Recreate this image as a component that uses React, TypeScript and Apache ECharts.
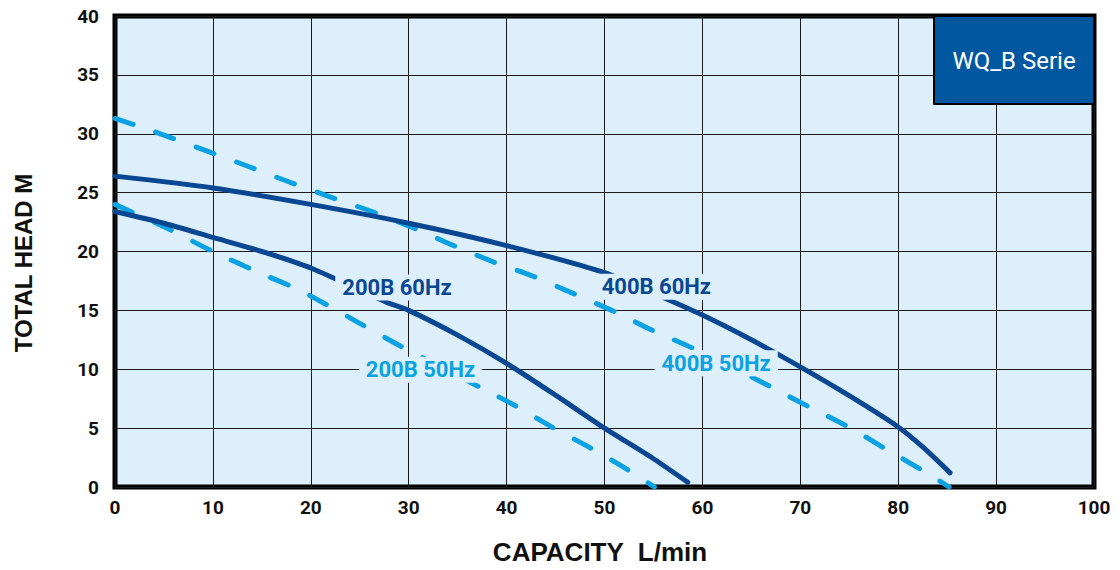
import React, { useEffect, useRef } from "react";
import * as echarts from "echarts";

// Capacity (L/min) and total head (m)
const capacity400_60 = [0, 10, 20, 30, 40, 50, 55.7, 60, 65, 70, 75, 80, 82.5, 85.3];
const head400_60 = [26.4, 25.4, 24.0, 22.4, 20.5, 18.2, 16.2, 14.6, 12.5, 10.2, 7.75, 5.1, 3.4, 1.2];

const capacity400_50 = [0, 3.1, 9.5, 13.7, 17.8, 22.1, 26.2, 30.5, 34.6, 38.7, 42.7, 46.9, 51, 54.9, 59, 63, 67, 70.9, 74.9, 78.6, 82.5, 85.2];
const head400_50 = [31.3, 30.45, 28.5, 27.2, 25.9, 24.6, 23.4, 22.0, 20.5, 19.1, 17.9, 16.4, 14.9, 13.3, 11.8, 10.2, 8.5, 6.8, 5.1, 3.3, 1.4, 0];

const capacity200_60 = [0, 5, 10, 15, 20, 27.7, 30, 35, 40, 45, 50, 55, 58.5];
const head200_60 = [23.4, 22.4, 21.2, 20.0, 18.6, 15.7, 15.0, 12.9, 10.5, 7.8, 5.0, 2.4, 0.4];

const capacity200_50 = [0, 5, 10, 15, 18.9, 25, 29.1, 38.6, 40.9, 44.6, 48.6, 52.3, 55.1];
const head200_50 = [24.0, 22.1, 20.0, 18.1, 16.7, 13.9, 12.0, 7.9, 6.9, 5.1, 3.3, 1.5, 0];

// Curve labels (text and anchor in data coordinates)
const labelNames = ["200B 60Hz", "400B 60Hz", "200B 50Hz", "400B 50Hz"];
const labelCapacity = [28.8, 55.3, 31.2, 61.4];
const labelHead = [16.95, 17.0, 9.96, 10.5];
const labelIs60Hz = [true, true, false, false];

const xTicks = { min: 0, max: 100, interval: 10 };
const yTicks = { min: 0, max: 40, interval: 5 };

const seriesTitle = "WQ_B Serie";
const xTitle = "CAPACITY  L/min";
const yTitle = "TOTAL HEAD M";

const DARK = "#0a4793";
const LIGHT = "#0aa2e2";
const BG = "#ddeffa";

const zip = (xs: number[], ys: number[]) => xs.map((x, i) => [x, ys[i]]);

export default function App() {
  const ref = useRef<HTMLDivElement>(null);
  useEffect(() => {
    if (!ref.current) return;
    const chart = echarts.init(ref.current, null, { renderer: "svg" });
    const solid = (name: string, data: number[][]) => ({
      name,
      type: "line",
      data,
      smooth: 0.25,
      showSymbol: false,
      symbol: "none",
      z: 3,
      lineStyle: { color: DARK, width: 5, cap: "round", join: "round" },
      silent: true,
    });
    const dashed = (name: string, data: number[][]) => ({
      name,
      type: "line",
      data,
      smooth: 0.25,
      showSymbol: false,
      symbol: "none",
      z: 2,
      lineStyle: { color: LIGHT, width: 5, type: [19, 24], cap: "round" },
      silent: true,
    });
    chart.setOption({
      animation: false,
      backgroundColor: "#ffffff",
      grid: {
        left: 115,
        top: 16,
        right: 26,
        bottom: 83,
        show: true,
        backgroundColor: BG,
        borderColor: "#000",
        borderWidth: 5,
        z: 0,
      },
      xAxis: {
        type: "value",
        min: xTicks.min,
        max: xTicks.max,
        interval: xTicks.interval,
        axisLine: { show: false },
        axisTick: { show: false },
        axisLabel: {
          margin: 11,
          color: "#111",
          fontFamily: "Roboto",
          fontWeight: "bold",
          fontSize: 19,
        },
        splitLine: { show: true, lineStyle: { color: "#1a1a1a", width: 1 } },
      },
      yAxis: {
        type: "value",
        min: yTicks.min,
        max: yTicks.max,
        interval: yTicks.interval,
        axisLine: { show: false },
        axisTick: { show: false },
        axisLabel: {
          margin: 16,
          color: "#111",
          fontFamily: "Roboto",
          fontWeight: "bold",
          fontSize: 19,
        },
        splitLine: { show: true, lineStyle: { color: "#1a1a1a", width: 1 } },
      },
      series: [
        dashed("400B 50Hz", zip(capacity400_50, head400_50)),
        dashed("200B 50Hz", zip(capacity200_50, head200_50)),
        solid("400B 60Hz", zip(capacity400_60, head400_60)),
        solid("200B 60Hz", zip(capacity200_60, head200_60)),
        {
          type: "scatter",
          symbolSize: 0,
          silent: true,
          z: 10,
          itemStyle: { opacity: 0 },
          data: labelNames.map((n, i) => ({
            name: n,
            value: [labelCapacity[i], labelHead[i]],
            label: { color: labelIs60Hz[i] ? DARK : LIGHT },
          })),
          label: {
            show: true,
            position: "inside",
            formatter: (p: any) => p.name,
            fontFamily: "Roboto",
            fontWeight: "bold",
            fontSize: 22,
            textBorderWidth: 0,
            textBorderColor: "transparent",
            opacity: 1,
            backgroundColor: BG,
            padding: [2, 7],
          },
        },
      ],
      graphic: [
        {
          type: "rect",
          z: 100,
          shape: { x: 934, y: 16, width: 160, height: 88 },
          style: { fill: "#0258a0", stroke: "#000", lineWidth: 2 },
        },
        {
          type: "text",
          z: 101,
          x: 1014,
          y: 61,
          style: {
            text: seriesTitle,
            fill: "#fff",
            font: "24px Roboto",
            textAlign: "center",
            textVerticalAlign: "middle",
          },
        },
        {
          type: "text",
          x: 600,
          y: 552,
          style: {
            text: xTitle,
            fill: "#111",
            font: "bold 26px 'Liberation Sans'",
            textAlign: "center",
            textVerticalAlign: "middle",
          },
        },
        {
          type: "text",
          x: 23,
          y: 263,
          rotation: Math.PI / 2,
          style: {
            text: yTitle,
            fill: "#111",
            font: "bold 24px 'Liberation Sans'",
            textAlign: "center",
            textVerticalAlign: "middle",
          },
        },
      ],
    });
    return () => chart.dispose();
  }, []);
  return (
    <div
      ref={ref}
      style={{ position: "fixed", left: 0, top: 0, width: 1120, height: 570 }}
    />
  );
}
